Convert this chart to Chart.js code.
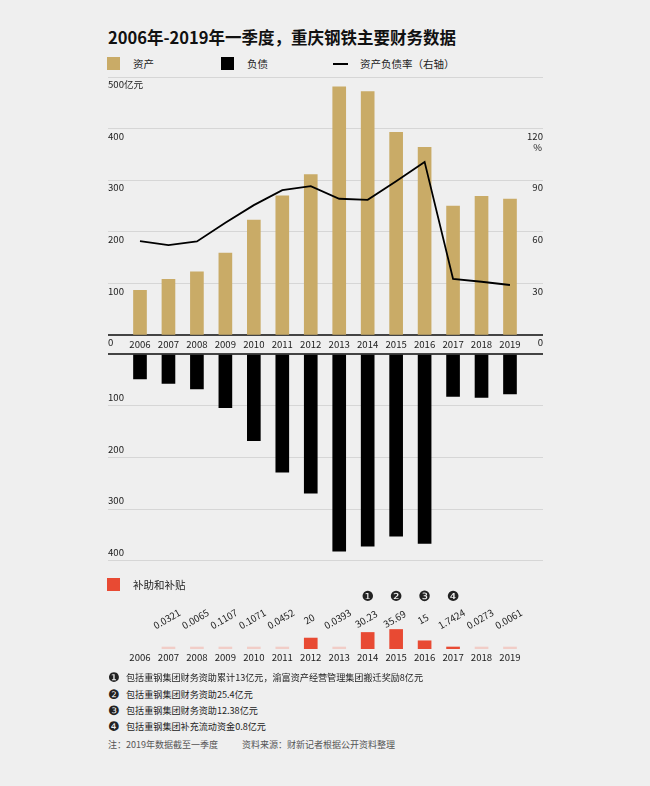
<!DOCTYPE html>
<html lang="zh">
<head>
<meta charset="utf-8">
<title>重庆钢铁主要财务数据</title>
<script src="https://cdn.jsdelivr.net/npm/chart.js@4/dist/chart.umd.min.js"></script>
<style>
  html, body { margin: 0; padding: 0; }
  body { width: 650px; height: 786px; background: #efefef; position: relative; overflow: hidden;
         font-family: "Noto Sans CJK SC", "Noto Sans", sans-serif; color: #222; }
  canvas { position: absolute; left: 0; }
  .abs { position: absolute; white-space: nowrap; }
  #title { left: 108px; top: 25px; font-size: 16.5px; line-height: 24px; font-weight: bold; color: #111; }
  .sw { position: absolute; width: 13px; height: 13px; }
  .lg { font-size: 10.5px; line-height: 14px; }
  .note { left: 108px; font-size: 9.1px; line-height: 14px; }
  .num { font-family: "DejaVu Sans", sans-serif; font-size: 13px; display: inline-block; width: 18px; vertical-align: -1px; }
  .src { color: #555; font-size: 9px; }
</style>
</head>
<body>
<div id="title" class="abs">2006年-2019年一季度，重庆钢铁主要财务数据</div>

<div class="sw" style="left:107px;top:57px;background:#c9ab67"></div>
<div class="abs lg" style="left:133px;top:57px">资产</div>
<div class="sw" style="left:221px;top:57px;background:#000"></div>
<div class="abs lg" style="left:247px;top:57px">负债</div>
<div class="abs" style="left:333px;top:63px;width:15px;height:2px;background:#000"></div>
<div class="abs lg" style="left:360px;top:57px">资产负债率（右轴）</div>

<canvas id="topChart" width="650" height="360" style="top:0"></canvas>
<canvas id="bottomChart" width="650" height="240" style="top:340px"></canvas>
<div class="abs lg" style="left:530px;top:140px;width:12px;text-align:right;font-size:9.5px">%</div>

<div class="sw" style="left:107px;top:578px;background:#e84a33"></div>
<div class="abs lg" style="left:133px;top:578px">补助和补贴</div>
<canvas id="subsidyChart" width="650" height="110" style="top:560px"></canvas>

<div class="abs note" style="top:670px"><span class="num">❶</span>包括重钢集团财务资助累计13亿元，渝富资产经营管理集团搬迁奖励8亿元</div>
<div class="abs note" style="top:687px"><span class="num">❷</span>包括重钢集团财务资助25.4亿元</div>
<div class="abs note" style="top:703px"><span class="num">❸</span>包括重钢集团财务资助12.38亿元</div>
<div class="abs note" style="top:719px"><span class="num">❹</span>包括重钢集团补充流动资金0.8亿元</div>
<div class="abs note src" style="top:738px">注：2019年数据截至一季度</div>
<div class="abs note src" style="top:738px;left:242px">资料来源：财新记者根据公开资料整理</div>

<script>
// 数据（亿元 / %）
const years = ['2006', '2007', '2008', '2009', '2010', '2011', '2012', '2013', '2014', '2015', '2016', '2017', '2018', '2019'];
const assets = [87, 108.5, 123, 159, 223, 270, 311, 481, 472, 393, 364, 250, 269, 263.5];
const liabilities = [48.4, 56.7, 67.7, 103.8, 167.6, 228.9, 269.5, 381.7, 372, 352.7, 366.8, 81.9, 83.8, 77.4];
const debtRatio = [54.7, 52.4, 54.5, 65.3, 75.6, 84.3, 86.6, 79.3, 78.7, 89.5, 100.7, 32.7, 31.1, 29.2];
const subsidies = [null, 0.0321, 0.0065, 0.1107, 0.1071, 0.0452, 20, 0.0393, 30.23, 35.69, 15, 1.7424, 0.0273, 0.0061];
const assetTicks = [0, 100, 200, 300, 400, 500];
const ratioTicks = [0, 30, 60, 90, 120];
const debtTicks = [0, 100, 200, 300, 400];
const noteYears = ['2014', '2015', '2016', '2017'];
const noteMarks = ['❶', '❷', '❸', '❹'];

const FONT = '"Noto Sans CJK SC", "Noto Sans", sans-serif';
const GOLD = '#c9ab67';
const RED = '#e84a33';
const X_MIN = -1.124, X_MAX = 14.16;

const toPoints = arr => arr.map((v, i) => ({ x: i, y: v }));

function xAxis(show, height) {
    return {
        type: 'linear', min: X_MIN, max: X_MAX, display: show, offset: false,
        afterBuildTicks: s => { s.ticks = years.map((y, i) => ({ value: i })); },
        grid: { display: false, drawTicks: false }, border: { display: false },
        ticks: { callback: v => years[v], color: '#222', font: { size: 9.6, family: FONT },
                 padding: 3, maxRotation: 0, autoSkip: false },
        afterFit: s => { s.height = height; }
    };
}

function yAxis(position, max, ticks, offset, label, grid) {
    return {
        position: position, min: 0, max: max,
        afterBuildTicks: s => { s.ticks = ticks.map(v => ({ value: v })); },
        grid: grid ? {
            color: c => c.tick.value === 0 ? '#444' : '#d6d6d6',
            lineWidth: c => c.tick.value === 0 ? 2 : 1,
            drawTicks: false
        } : { display: false, drawTicks: false },
        border: { display: false },
        ticks: { mirror: true, padding: 0, labelOffset: offset, color: '#222',
                 font: { size: 9.6, family: FONT }, callback: label },
        afterFit: s => { s.width = 0; }
    };
}

// 上半部分：资产 + 资产负债率
new Chart(document.getElementById('topChart'), {
    type: 'bar',
    data: {
        datasets: [{
            type: 'line', label: '资产负债率（右轴）', data: toPoints(debtRatio), yAxisID: 'y1',
            borderColor: '#000', borderWidth: 1.8, pointRadius: 0, tension: 0, order: 0
        }, {
            label: '资产', data: toPoints(assets), yAxisID: 'y',
            backgroundColor: GOLD, barThickness: 13, order: 1
        }]
    },
    options: {
        responsive: false, animation: false,
        layout: { padding: { left: 108, right: 107, top: 77, bottom: 4.7 } },
        plugins: { legend: { display: false }, tooltip: { enabled: false } },
        scales: {
            x: xAxis(true, 20),
            y: yAxis('left', 500, assetTicks, 7.5, v => v === 500 ? '500亿元' : String(v), true),
            y1: yAxis('right', 150, ratioTicks, 7.5, v => String(v), false)
        }
    }
});

// 下半部分：负债（向下）
const debtY = yAxis('left', 400, debtTicks, -8.5, v => v === 0 ? '' : String(v), true);
debtY.reverse = true;
new Chart(document.getElementById('bottomChart'), {
    type: 'bar',
    data: {
        datasets: [{ label: '负债', data: toPoints(liabilities), backgroundColor: '#000', barThickness: 13 }]
    },
    options: {
        responsive: false, animation: false,
        layout: { padding: { left: 108, right: 107, top: 14, bottom: 19.3 } },
        plugins: { legend: { display: false }, tooltip: { enabled: false } },
        scales: { x: xAxis(false, 0), y: debtY }
    }
});

// 补助和补贴：数值标签与注释编号
const subsidyLabels = {
    id: 'subsidyLabels',
    afterDatasetsDraw(chart) {
        const { ctx, scales: { x } } = chart;
        ctx.save();
        ctx.fillStyle = '#222';
        ctx.textAlign = 'center';
        ctx.textBaseline = 'middle';
        ctx.font = '9.6px ' + FONT;
        subsidies.forEach((v, i) => {
            if (v == null) return;
            ctx.save();
            ctx.translate(x.getPixelForValue(i) - 1.5, 59);
            ctx.rotate(-30 * Math.PI / 180);
            ctx.fillText(String(v), 0, 0);
            ctx.restore();
        });
        ctx.font = '14px "DejaVu Sans", sans-serif';
        noteYears.forEach((yr, k) => {
            ctx.fillText(noteMarks[k], x.getPixelForValue(years.indexOf(yr)), 37);
        });
        ctx.restore();
    }
};

new Chart(document.getElementById('subsidyChart'), {
    type: 'bar',
    data: {
        datasets: [{
            label: '补助和补贴', data: toPoints(subsidies), barThickness: 13, minBarLength: 2,
            backgroundColor: c => (c.parsed && c.parsed.y < 1) ? '#f1cdc7' : RED
        }]
    },
    options: {
        responsive: false, animation: false,
        layout: { padding: { left: 108, right: 107, top: 54, bottom: 5 } },
        plugins: { legend: { display: false }, tooltip: { enabled: false } },
        scales: {
            x: xAxis(true, 16),
            y: { min: 0, max: 64, display: false }
        }
    },
    plugins: [subsidyLabels]
});
</script>
</body>
</html>
